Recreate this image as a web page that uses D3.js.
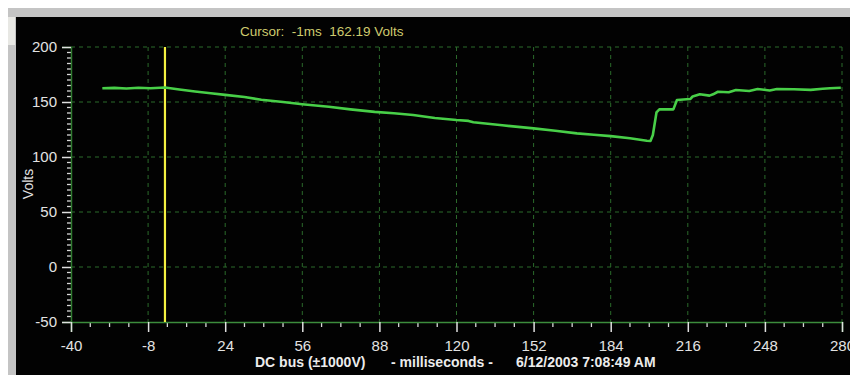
<!DOCTYPE html>
<html>
<head>
<meta charset="utf-8">
<script src="https://cdn.jsdelivr.net/npm/d3@7"></script>
<style>
    body { margin: 0; background: #fff; }
    svg { display: block; }
    .tick text { font-family: "Liberation Sans", Arial, sans-serif; }
</style>
</head>
<body>
<div id="chart"></div>
<script>
// trace readings (ms, volts)
const timeMs = [-27, -22, -17, -12, -7, -1, 5, 11.5, 18, 24, 32, 39, 48, 56, 67, 76, 86, 94, 102, 111,
    120, 125, 127, 139, 152, 161, 170, 177, 184, 192, 199, 200.5, 201.5, 203, 204.2, 210, 211.5,
    215.5, 217, 218, 221, 225, 226.5, 228.5, 233, 236, 241.5, 245, 250, 253, 260, 267, 272, 275, 279.5];
const volts = [162.5, 162.8, 162.3, 163.0, 162.5, 163.2, 161.3, 159.5, 158, 156.5, 154.5, 152, 150, 148,
    145.7, 143.3, 141, 139.8, 138.2, 135.5, 133.6, 132.8, 131.6, 128.8, 126, 123.8, 121.5, 120.2, 119, 117,
    114.8, 114.5, 120, 140.5, 143.3, 143.3, 151.8, 152.5, 152.7, 155, 157, 155.8, 157, 159.3, 158.8,
    160.9, 160, 161.8, 160.5, 161.8, 161.6, 161, 162, 162.5, 163];

const xTicks = d3.range(-40, 281, 32);
const yTicks = [-50, 0, 50, 100, 150, 200];
const cursorMs = -1, cursorVolts = 162.19;

const width = 850, height = 375;
const x = d3.scaleLinear().domain([-40, 280]).range([71, 842]);
const y = d3.scaleLinear().domain([-50, 200]).range([322, 47]);

const svg = d3.select("#chart").append("svg")
    .attr("width", width)
    .attr("height", height);

// window frame
svg.append("rect").attr("x", 8).attr("y", 8).attr("width", width - 8).attr("height", height - 8).attr("fill", "#c4c4c4");
svg.append("rect").attr("x", 8).attr("y", 17).attr("width", 7).attr("height", 28).attr("fill", "#e8e8e4");
svg.append("rect").attr("x", 16).attr("y", 17).attr("width", width - 16).attr("height", height - 17).attr("fill", "#020202");

// grid
svg.append("g").selectAll("line")
    .data(xTicks.slice(1))
    .enter().append("line")
    .attr("x1", d => x(d)).attr("x2", d => x(d))
    .attr("y1", y(200)).attr("y2", y(-50))
    .attr("stroke", "#2b6a2b").attr("stroke-dasharray", "4,4");

svg.append("g").selectAll("line")
    .data(yTicks.slice(1))
    .enter().append("line")
    .attr("x1", x(-40)).attr("x2", x(280))
    .attr("y1", d => y(d)).attr("y2", d => y(d))
    .attr("stroke", "#2b6a2b").attr("stroke-dasharray", "4,4");

// minor ticks
svg.append("g").selectAll("line")
    .data(d3.range(-50, 200, 5).filter(v => v % 50 !== 0))
    .enter().append("line")
    .attr("x1", x(-40) - 4).attr("x2", x(-40))
    .attr("y1", d => y(d)).attr("y2", d => y(d))
    .attr("stroke", "#d8d8d8").attr("stroke-width", 1.3);

svg.append("g").selectAll("line")
    .data(d3.range(-40, 280, 8).filter(v => (v + 40) % 32 !== 0))
    .enter().append("line")
    .attr("x1", d => x(d)).attr("x2", d => x(d))
    .attr("y1", y(-50)).attr("y2", y(-50) + 5)
    .attr("stroke", "#d8d8d8").attr("stroke-width", 1.3);

// axes
const yAxis = svg.append("g")
    .attr("transform", "translate(" + x(-40) + ",0)")
    .call(d3.axisLeft(y).tickValues(yTicks).tickFormat(d => String(d)).tickSize(9).tickPadding(5));
const xAxis = svg.append("g")
    .attr("transform", "translate(0," + y(-50) + ")")
    .call(d3.axisBottom(x).tickValues(xTicks).tickFormat(d => String(d)).tickSize(10).tickPadding(8));

[yAxis, xAxis].forEach(a => {
    a.select(".domain").attr("stroke", "#3c8c3c").attr("stroke-width", 1.5);
    a.selectAll(".tick line").attr("stroke", "#e0e0e0").attr("stroke-width", 1.5);
    a.selectAll(".tick text").attr("fill", "#e2e2e2").style("font-size", "15px");
});
yAxis.select(".domain").attr("stroke", "#2f7a2f");

// y label
svg.append("text")
    .attr("transform", "translate(33,184) rotate(-90)")
    .attr("text-anchor", "middle")
    .attr("fill", "#e2e2e2")
    .style("font-family", "'Liberation Sans', Arial, sans-serif")
    .style("font-size", "14px")
    .text("Volts");

// cursor
svg.append("line")
    .attr("x1", x(cursorMs)).attr("x2", x(cursorMs))
    .attr("y1", y(200)).attr("y2", y(-50))
    .attr("stroke", "#f4f040").attr("stroke-width", 2.2);

svg.append("text")
    .attr("x", 240).attr("y", 36)
    .attr("fill", "#cfcb6e")
    .style("font-family", "'Liberation Sans', Arial, sans-serif")
    .style("font-size", "13.5px")
    .attr("xml:space", "preserve")
    .text("Cursor:  " + cursorMs + "ms  " + cursorVolts + " Volts");

// trace
const line = d3.line()
    .x((d, i) => x(timeMs[i]))
    .y(d => y(d))
    .curve(d3.curveLinear);

svg.append("path")
    .datum(volts)
    .attr("d", line)
    .attr("fill", "none")
    .attr("stroke", "#48cf48")
    .attr("stroke-width", 2.6)
    .attr("stroke-linejoin", "round");

// bottom caption
const caption = [
    {t: "DC bus (±1000V)", x: 255},
    {t: "- milliseconds -", x: 391},
    {t: "6/12/2003 7:08:49 AM", x: 516}
];
svg.append("g").selectAll("text")
    .data(caption)
    .enter().append("text")
    .attr("x", d => d.x).attr("y", 367)
    .attr("fill", "#ececec")
    .style("font-family", "'Liberation Sans', Arial, sans-serif")
    .style("font-weight", "bold")
    .style("font-size", "14px")
    .text(d => d.t);
</script>
</body>
</html>
